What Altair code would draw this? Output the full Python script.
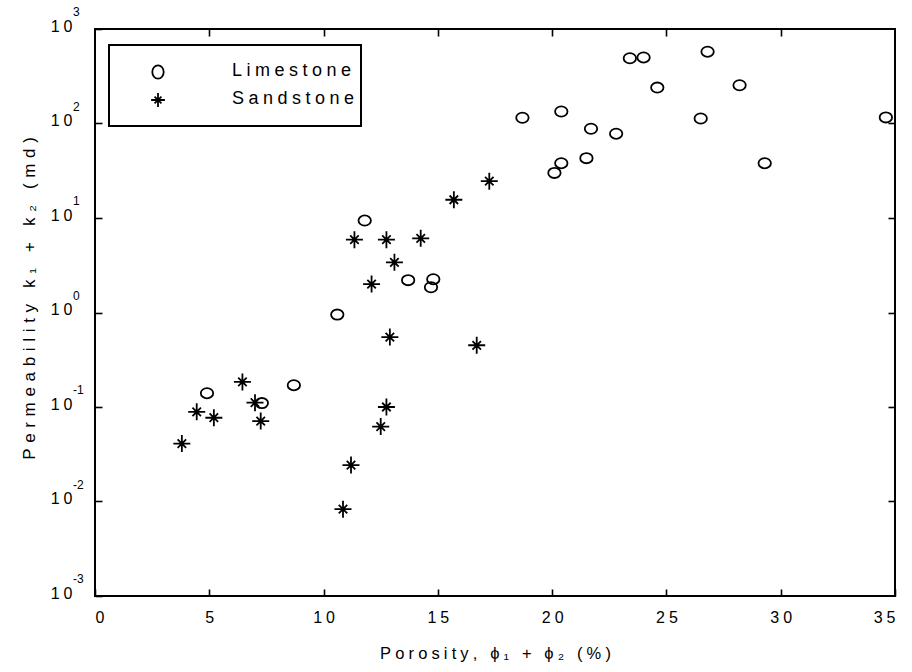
import altair as alt
import pandas as pd

# ---------------- data ----------------
types = ["Limestone", "Sandstone"]

lime_x = [4.9, 7.3, 8.7, 10.6, 11.8, 13.7, 14.8, 14.7, 18.7, 20.4, 21.7, 22.8,
          20.4, 20.1, 21.5, 23.4, 24.0, 26.8, 24.6, 28.2, 26.5, 34.6, 29.3]
lime_k = [0.14, 0.11, 0.17, 0.95, 9.4, 2.2, 2.25, 1.85, 115, 134, 88, 78,
          38, 30, 43, 490, 500, 575, 240, 254, 113, 116, 38]

sand_x = [3.8, 4.45, 5.2, 6.45, 7.0, 7.25, 10.85, 11.2, 12.5, 12.75, 12.9,
          12.1, 13.1, 11.35, 12.75, 14.25, 15.7, 17.25, 16.7]
sand_k = [0.041, 0.089, 0.077, 0.184, 0.111, 0.071, 0.0083, 0.0243, 0.062,
          0.10, 0.55, 2.0, 3.4, 5.9, 5.9, 6.1, 15.6, 24.5, 0.45]

x_ticks = [0, 5, 10, 15, 20, 25, 30, 35]
y_exps = [-3, -2, -1, 0, 1, 2, 3]

x_title = "Porosity, \u03d5\u2081 + \u03d5\u2082 (%)"
y_title = "Permeability k\u2081 + k\u2082 (md)"

# ---------------- styling ----------------
FONT = "Liberation Sans"
SP = "\u2005"   # letter tracking (1/4 em)
SP3 = "\u2004"  # wider tracking (1/3 em)


def track(s, sep=SP):
    return sep.join(list(s))


ELLIPSE = ("M -1 0 C -1 -0.4529 -0.5523 -0.82 0 -0.82 C 0.5523 -0.82 1 -0.4529 1 0 "
           "C 1 0.4529 0.5523 0.82 0 0.82 C -0.5523 0.82 -1 0.4529 -1 0 Z")
ELLIPSE_V = ("M 0 -1 C 0.4695 -1 0.85 -0.5523 0.85 0 C 0.85 0.5523 0.4695 1 0 1 "
             "C -0.4695 1 -0.85 0.5523 -0.85 0 C -0.85 -0.5523 -0.4695 -1 0 -1 Z")
STAR = "M 0 -1 L 0 1 M -1 0 L 1 0 M -0.5 -0.5 L 0.5 0.5 M -0.5 0.5 L 0.5 -0.5"

df = pd.DataFrame({
    "x": lime_x + sand_x,
    "k": lime_k + sand_k,
    "type": [types[0]] * len(lime_x) + [types[1]] * len(sand_x),
})

x_scale = alt.Scale(domain=[0, 35], nice=False, zero=False)
y_scale = alt.Scale(type="log", domain=[1e-3, 1e3], nice=False)
y_vals = [10.0 ** e for e in y_exps]

x_label_expr = ("length(datum.label) > 1 ? substring(datum.label, 0, 1) + '" + SP +
                "' + substring(datum.label, 1) : datum.label")

points = alt.Chart(df).mark_point(filled=False, color="black", strokeWidth=1.8, opacity=1).encode(
    x=alt.X("x:Q", scale=x_scale, axis=alt.Axis(
        orient="bottom", values=x_ticks, tickSize=7, offset=-7, domain=False, grid=False,
        tickColor="black", tickWidth=1.6, labelFont=FONT, labelFontSize=16, labelColor="black",
        labelPadding=13, labelExpr=x_label_expr, title=track(x_title), titleFont=FONT,
        titleFontSize=16.5, titleFontWeight="normal", titleColor="black", titlePadding=20)),
    y=alt.Y("k:Q", scale=y_scale, axis=alt.Axis(
        orient="left", values=y_vals, tickSize=7, offset=-7, domain=False, grid=False,
        tickColor="black", tickWidth=1.6, labelFont=FONT, labelFontSize=16, labelColor="black",
        labelPadding=23, labelOffset=-3, labelExpr="'1" + SP + "0'", title=track(y_title, SP3),
        titleFont=FONT, titleFontSize=17, titleFontWeight="normal", titleColor="black",
        titlePadding=12, titleY=269)),
    shape=alt.Shape("type:N", scale=alt.Scale(domain=types, range=[ELLIPSE, STAR]), legend=None),
    size=alt.Size("type:N", scale=alt.Scale(domain=types, range=[154, 289]), legend=None),
)

frame_axes = alt.Chart(df).mark_point(opacity=0).encode(
    x=alt.X("x:Q", scale=x_scale, axis=alt.Axis(
        orient="top", values=x_ticks[1:-1], tickSize=7, offset=-7, domain=False, grid=False,
        labels=False, tickColor="black", tickWidth=1.6, title=None)),
    y=alt.Y("k:Q", scale=y_scale, axis=alt.Axis(
        orient="right", values=y_vals[1:-1], tickSize=7, offset=-7, domain=False, grid=False,
        labels=False, tickColor="black", tickWidth=1.6, title=None)),
)

exp_df = pd.DataFrame({"v": y_vals, "e": [str(e) for e in y_exps]})
exps = alt.Chart(exp_df).mark_text(align="left", baseline="middle", font=FONT, fontSize=12,
                                   color="black", dy=-17).encode(
    x=alt.value(-22),
    y=alt.Y("v:Q", scale=y_scale, axis=None),
    text="e:N",
)

# legend (drawn by hand)
box = alt.Chart(pd.DataFrame({"a": [0]})).mark_rect(fill="white", stroke="black", strokeWidth=2).encode(
    x=alt.value(14), x2=alt.value(266), y=alt.value(16), y2=alt.value(97))

leg_layers = []
leg_shapes = [ELLIPSE_V, STAR]
leg_sizes = [180, 190]
for i, t in enumerate(types):
    d = pd.DataFrame({"label": [track(t)]})
    leg_layers.append(alt.Chart(d).mark_point(filled=False, color="black", strokeWidth=1.8, opacity=1).encode(
        x=alt.value(63), y=alt.value(43 + 28 * i), shape=alt.value(leg_shapes[i]), size=alt.value(leg_sizes[i])))
    leg_layers.append(alt.Chart(d).mark_text(align="left", baseline="middle", font=FONT, fontSize=18,
                                             color="black").encode(
        x=alt.value(137), y=alt.value(42 + 28 * i), text="label:N"))

chart = alt.layer(points, frame_axes, exps, box, *leg_layers).resolve_axis(
    x="independent", y="independent"
).properties(
    width=800, height=567,
    autosize=alt.AutoSizeParams(type="none"),
    padding={"left": 95, "top": 29, "right": 17, "bottom": 76},
    background="white",
).configure_view(stroke="black", strokeWidth=2)

chart.save("out.html", embed_options={"renderer": "svg", "actions": False})
